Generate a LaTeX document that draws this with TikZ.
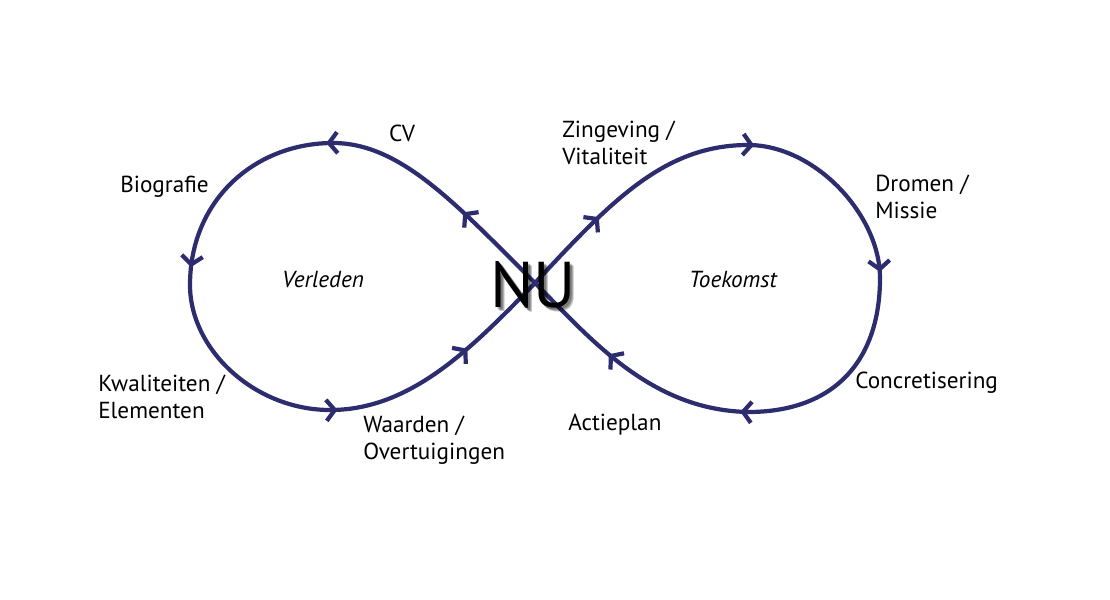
\documentclass[tikz,border=0pt]{standalone}
\usepackage{fontspec}
\setmainfont{PT Sans}
\usepackage{xcolor}
\usetikzlibrary{arrows.meta,decorations.markings}

\definecolor{infblue}{RGB}{44,44,110}
\pgfkeys{/pgf/decoration/tipat/.style={mark=at position #1 with {\arrow{>}}}}
\tikzset{
  curveline/.style={line width=3pt, draw=infblue, line cap=round, postaction={decorate}},
  lbl/.style={font=\fontsize{16.5}{19.5}\selectfont, inner sep=0pt, align=left},
  >={Straight Barb[length=6pt,width=15pt]}
}

\begin{document}
\begin{tikzpicture}[x=0.025cm, y=-0.025cm]
        \useasboundingbox (0,0) rectangle (1110,599);
        \coordinate (c) at (535,283);
        \coordinate (ltop) at (333,143); \coordinate (lleft) at (190,285); \coordinate (lbottom) at (330,410);
        \coordinate (rtop) at (748,145); \coordinate (rright) at (880,278); \coordinate (rbottom) at (748,412);

        % left loop (Verleden)
        \draw [curveline, decoration={markings, tipat=0.4}] (c) .. controls (455,203) and (400,143) .. (ltop);
        \draw [curveline, decoration={markings, tipat=0.03, tipat=0.92}] (ltop) .. controls (255,143) and (190,200) .. (lleft);
        \draw [curveline, decoration={markings}] (lleft) .. controls (190,350) and (255,410) .. (lbottom);
        \draw [curveline, decoration={markings, tipat=0.03, tipat=0.62}] (lbottom) .. controls (410,410) and (470,350) .. (c);

        % right loop (Toekomst)
        \draw [curveline, decoration={markings, tipat=0.35}] (c) .. controls (612,200) and (665,145) .. (rtop);
        \draw [curveline, decoration={markings, tipat=0.03, tipat=0.97}] (rtop) .. controls (815,145) and (880,215) .. (rright);
        \draw [curveline, decoration={markings}] (rright) .. controls (880,360) and (835,412) .. (rbottom);
        \draw [curveline, decoration={markings, tipat=0.03, tipat=0.6}] (rbottom) .. controls (650,410) and (590,338) .. (c);

        % NU with soft shadow
        \foreach \d in {2,3,4} {
          \node [text=black, opacity=0.22, font=\fontsize{46}{50}\selectfont] at (533+\d,285+\d) {NU};
        }
        \node [font=\fontsize{46}{50}\selectfont] (nu) at (533,285) {NU};

        \node [lbl] (cv) at (402,133) {CV};
        \node [lbl, anchor=west] (bio) at (120,187) {Biografie};
        \node [lbl, font=\fontsize{16.5}{19.5}\selectfont\itshape] (verleden) at (323,280) {Verleden};
        \node [lbl, anchor=west] (kwal) at (98,397) {Kwaliteiten /\\Elementen};
        \node [lbl, anchor=west] (waarden) at (363,440) {Waarden /\\Overtuigingen};
        \node [lbl, anchor=west] (zin) at (562,143) {Zingeving /\\Vitaliteit};
        \node [lbl, anchor=west] (dromen) at (875,197) {Dromen /\\Missie};
        \node [lbl, font=\fontsize{16.5}{19.5}\selectfont\itshape] (toekomst) at (733,280) {Toekomst};
        \node [lbl, anchor=west] (concr) at (855,383) {Concretisering};
        \node [lbl, anchor=west] (actie) at (568,425) {Actieplan};
\end{tikzpicture}
\end{document}
